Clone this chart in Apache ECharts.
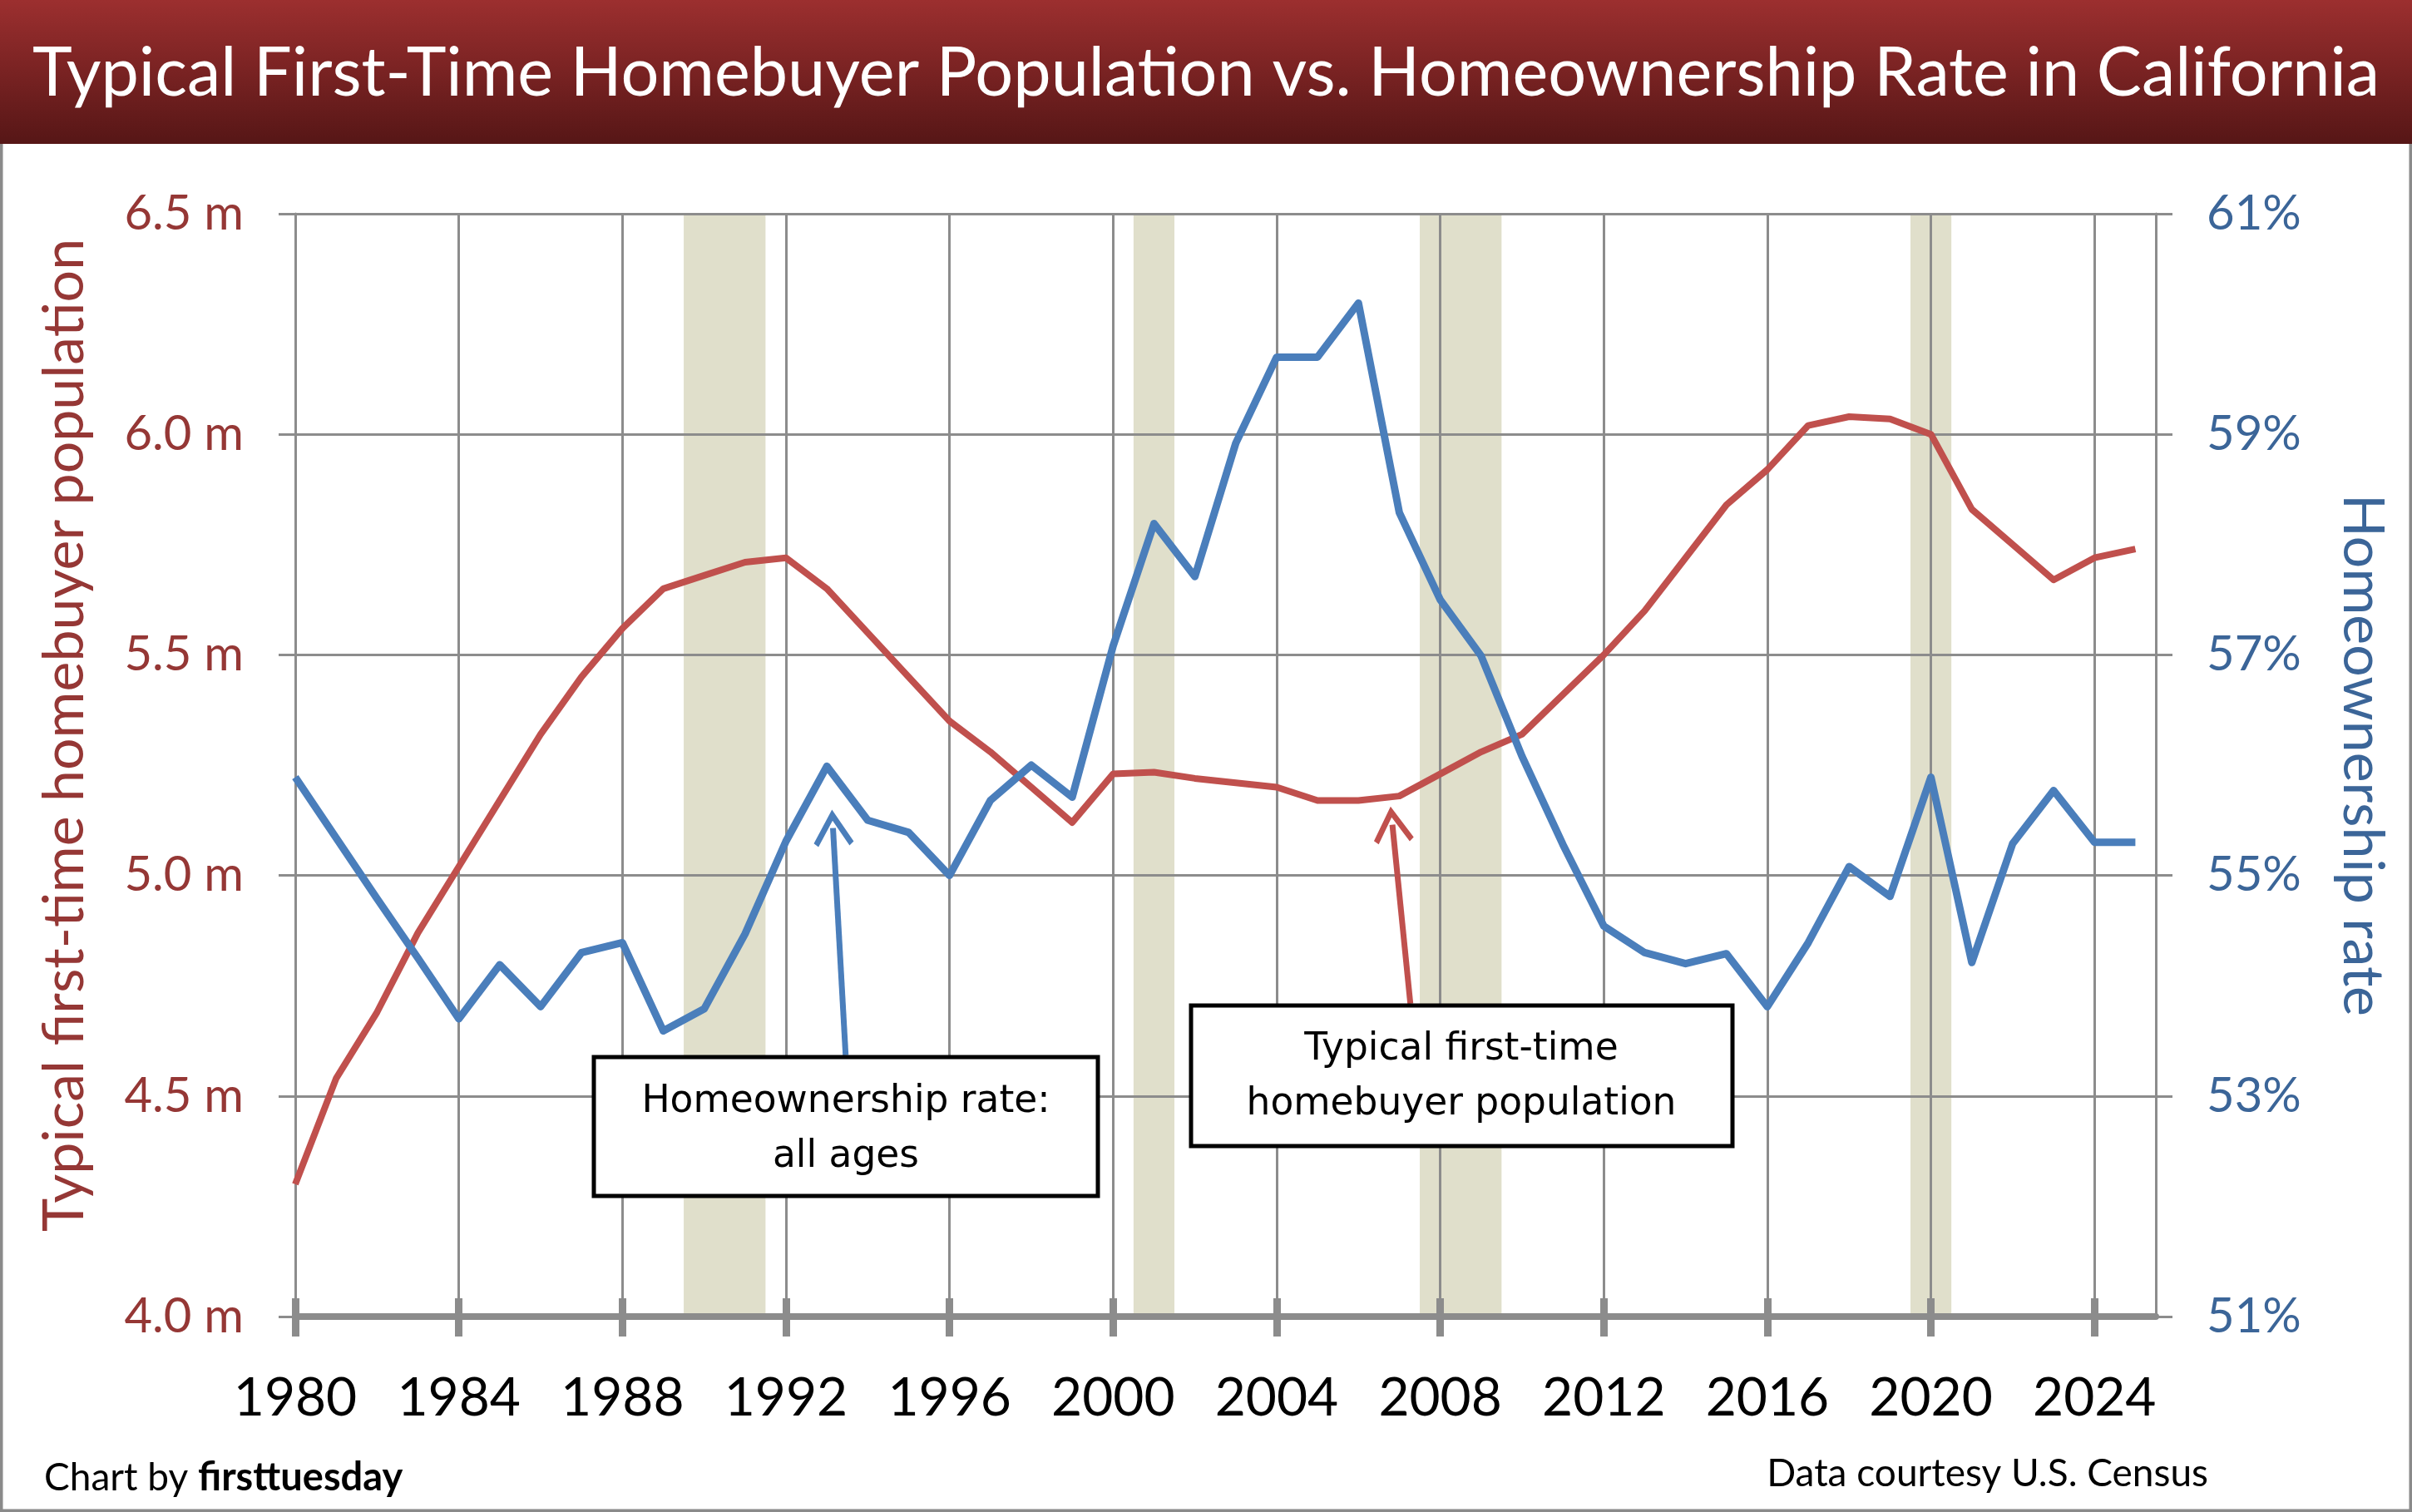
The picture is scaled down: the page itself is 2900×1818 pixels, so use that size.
<!DOCTYPE html>
<html><head><meta charset="utf-8">
<script src="https://cdn.jsdelivr.net/npm/echarts@6/dist/echarts.min.js"></script>
<style>html,body{margin:0;padding:0;background:#fff}#c{width:2900px;height:1818px}</style>
</head><body><div id="c"></div>
<script>
const years = [1980,1981,1982,1983,1984,1985,1986,1987,1988,1989,1990,1991,1992,1993,1994,1995,1996,1997,1998,1999,2000,2001,2002,2003,2004,2005,2006,2007,2008,2009,2010,2011,2012,2013,2014,2015,2016,2017,2018,2019,2020,2021,2022,2023,2024,2025];
// Typical first-time homebuyer population (millions)
const population = [4.30,4.54,4.69,4.87,5.02,5.17,5.32,5.45,5.56,5.65,5.68,5.71,5.72,5.65,5.55,5.45,5.35,
  5.28,5.20,5.12,5.23,5.234,5.22,5.21,5.20,5.17,5.17,5.18,5.23,5.28,5.32,5.41,
  5.50,5.60,5.72,5.84,5.92,6.02,6.04,6.035,6.00,5.83,5.75,5.67,5.72,5.74];
// Homeownership rate, all ages (%)
const homeownershipRate = [55.89,55.34,54.79,54.25,53.70,54.19,53.81,54.30,54.39,53.59,53.79,54.47,55.31,55.99,55.50,55.39,55.00,
  55.68,56.00,55.71,57.08,58.19,57.71,58.92,59.70,59.70,60.19,58.29,57.50,56.99,56.08,55.28,
  54.54,54.30,54.20,54.29,53.81,54.39,55.08,54.81,55.89,54.21,55.29,55.77,55.30,55.30];
const xTickYears = [1980,1984,1988,1992,1996,2000,2004,2008,2012,2016,2020,2024];
const recessions = [[1989.5,1991.5],[2000.5,2001.5],[2007.5,2009.5],[2019.5,2020.5]];
const xRange = [1980, 2025.5];
const popRange = [4.0, 6.5];
const rateRange = [51, 61];
// annotation arrows: [from, to] in data coordinates
const rateArrow = [[1993.46, 53.37],[1993.15, 55.43]];
const popArrow = [[2007.27, 4.709],[2006.83, 5.115]];

const RED = '#c0504d', BLUE = '#4a7ebb', GRID = '#8c8c8c';
const LEFTC = '#953735', RIGHTC = '#3b6598';
const FONT = 'Lato, "Open Sans", sans-serif';
const ANNO = '"DejaVu Sans", sans-serif';
const chevron = 'path://M50,0 L100,84 L89,94 L50,28 L11,94 L0,84 Z';

const chart = echarts.init(document.getElementById('c'), null, {renderer:'canvas'});
const option = {
  animation: false,
  backgroundColor: '#ffffff',
  grid: {left: 355, right: 308, top: 257, bottom: 235, containLabel: false},
  xAxis: [{
    type: 'value', min: xRange[0], max: xRange[1], position: 'bottom',
    axisLine: {show: true, onZero: false, lineStyle: {color: GRID, width: 8}},
    axisTick: {show: true, inside: false, length: 24, lineStyle: {color: GRID, width: 9}, customValues: xTickYears},
    axisLabel: {show: true, margin: 66, fontSize: 64, color: '#000', fontFamily: FONT, customValues: xTickYears,
      formatter: v => String(v)},
    splitLine: {show: true, lineStyle: {color: GRID, width: 3}}
  },{
    type: 'value', min: xRange[0], max: xRange[1], position: 'bottom',
    axisLine: {show: false, onZero: false},
    axisTick: {show: true, inside: true, length: 22, lineStyle: {color: GRID, width: 9}, customValues: xTickYears},
    axisLabel: {show: false},
    splitLine: {show: false}
  }],
  yAxis: [{
    type: 'value', min: popRange[0], max: popRange[1], interval: 0.5, position: 'left',
    axisLine: {show: true, lineStyle: {color: GRID, width: 3}},
    axisTick: {show: true, length: 20, lineStyle: {color: GRID, width: 3}},
    axisLabel: {margin: 62, fontSize: 58, color: LEFTC, fontFamily: FONT, formatter: v => v.toFixed(1) + ' m'},
    splitLine: {show: true, lineStyle: {color: GRID, width: 3}}
  },{
    type: 'value', min: rateRange[0], max: rateRange[1], interval: 2, position: 'right',
    axisLine: {show: true, lineStyle: {color: GRID, width: 3}},
    axisTick: {show: true, length: 20, lineStyle: {color: GRID, width: 3}},
    axisLabel: {margin: 61, fontSize: 58, color: RIGHTC, fontFamily: FONT, formatter: v => Math.round(v) + '%'},
    splitLine: {show: false}
  }],
  series: [{
    name: 'Recessions', type: 'line', xAxisIndex: 0, yAxisIndex: 0, data: [], z: -1, silent: true,
    markArea: {silent: true, itemStyle: {color: '#e0dfcb'}, z: -1,
      data: recessions.map(r => [{xAxis: r[0]}, {xAxis: r[1]}])}
  },{
    name: 'Typical first-time homebuyer population', type: 'line', xAxisIndex: 0, yAxisIndex: 0,
    data: years.map((y, i) => [y, population[i]]),
    showSymbol: false, symbol: 'none', lineStyle: {color: RED, width: 8, join: 'round'}, itemStyle: {color: RED}, z: 3,
    markLine: {silent: true, symbol: ['none', chevron], symbolSize: [48, 44], label: {show: false},
      lineStyle: {color: RED, width: 7, type: 'solid'},
      data: [[{coord: popArrow[0]}, {coord: popArrow[1]}]]}
  },{
    name: 'Homeownership rate: all ages', type: 'line', xAxisIndex: 0, yAxisIndex: 1,
    data: years.map((y, i) => [y, homeownershipRate[i]]),
    showSymbol: false, symbol: 'none', lineStyle: {color: BLUE, width: 9, join: 'round'}, itemStyle: {color: BLUE}, z: 4,
    markLine: {silent: true, symbol: ['none', chevron], symbolSize: [48, 44], label: {show: false},
      lineStyle: {color: BLUE, width: 7, type: 'solid'},
      data: [[{coord: rateArrow[0]}, {coord: rateArrow[1]}]]}
  }],
  graphic: [
    {type: 'rect', z: 0, shape: {x: 1.5, y: 1.5, width: 2897, height: 1815}, style: {fill: 'none', stroke: '#8a8a8a', lineWidth: 4}},
    {type: 'rect', z: 10, shape: {x: 0, y: 0, width: 2900, height: 173},
      style: {fill: new echarts.graphic.LinearGradient(0, 0, 0, 1, [{offset: 0, color: '#9c2f2f'}, {offset: 1, color: '#561616'}])}},
    {type: 'text', z: 11, style: {text: 'Typical First-Time Homebuyer Population vs. Homeownership Rate in California',
      x: 1450, y: 89, textAlign: 'center', textVerticalAlign: 'middle', fill: '#ffffff', fontSize: 81, fontFamily: FONT}},
    {type: 'text', z: 11, rotation: Math.PI / 2, x: 78, y: 884,
      style: {text: 'Typical first-time homebuyer population', textAlign: 'center', textVerticalAlign: 'middle', fill: LEFTC, fontSize: 68, fontFamily: FONT}},
    {type: 'text', z: 11, rotation: -Math.PI / 2, x: 2840, y: 908,
      style: {text: 'Homeownership rate', textAlign: 'center', textVerticalAlign: 'middle', fill: RIGHTC, fontSize: 68, fontFamily: FONT}},
    {type: 'text', z: 11, x: 53, y: 1777,
      style: {text: '{a|Chart by }{b|firsttuesday}', textVerticalAlign: 'middle',
        rich: {a: {fontSize: 46, fontFamily: FONT, fill: '#000'}, b: {fontSize: 47, fontFamily: FONT, fontWeight: 'bold', fill: '#000'}}}},
    {type: 'text', z: 11, x: 2655, y: 1772,
      style: {text: 'Data courtesy U.S. Census', textAlign: 'right', textVerticalAlign: 'middle', fontSize: 46, fontFamily: FONT, fill: '#000'}},
    {type: 'rect', z: 20, shape: {x: 714, y: 1271, width: 606, height: 167}, style: {fill: '#fff', stroke: '#000', lineWidth: 5}},
    {type: 'text', z: 21, x: 1017, y: 1325, style: {text: 'Homeownership rate:', textAlign: 'center', textVerticalAlign: 'middle', fontSize: 45.5, fontFamily: ANNO, fill: '#000'}},
    {type: 'text', z: 21, x: 1017, y: 1391, style: {text: 'all ages', textAlign: 'center', textVerticalAlign: 'middle', fontSize: 45.5, fontFamily: ANNO, fill: '#000'}},
    {type: 'rect', z: 20, shape: {x: 1432, y: 1209, width: 651, height: 169}, style: {fill: '#fff', stroke: '#000', lineWidth: 5}},
    {type: 'text', z: 21, x: 1757, y: 1262, style: {text: 'Typical first-time', textAlign: 'center', textVerticalAlign: 'middle', fontSize: 45.5, fontFamily: ANNO, fill: '#000'}},
    {type: 'text', z: 21, x: 1757, y: 1328, style: {text: 'homebuyer population', textAlign: 'center', textVerticalAlign: 'middle', fontSize: 45.5, fontFamily: ANNO, fill: '#000'}}
  ]
};
chart.setOption(option);
</script></body></html>
